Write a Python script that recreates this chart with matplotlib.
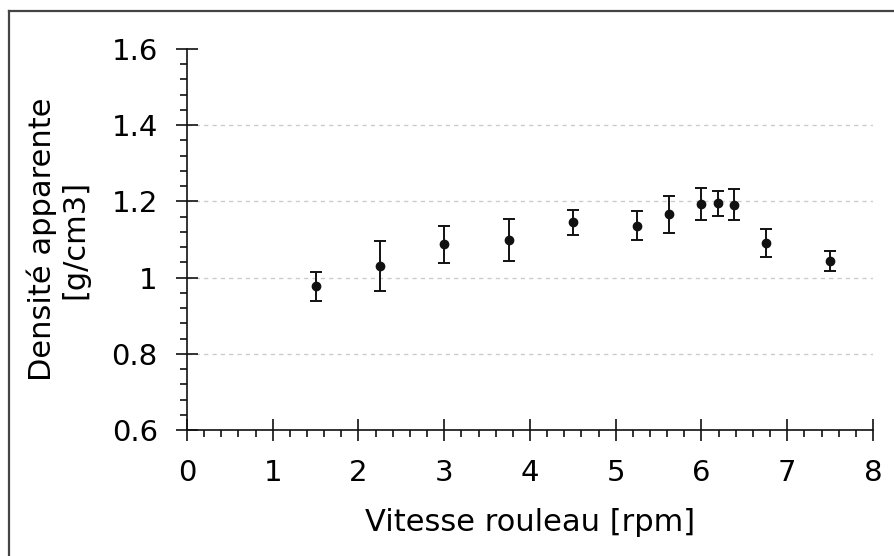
import numpy as np
import matplotlib.pyplot as plt
from matplotlib.lines import Line2D
from matplotlib.ticker import MultipleLocator, FuncFormatter

# roller speed vs bulk density, with error bars
vitesse = [1.5, 2.25, 3.0, 3.75, 4.5, 5.25, 5.625, 6.0, 6.1875, 6.375, 6.75, 7.5]
densite = [0.977, 1.031, 1.087, 1.099, 1.145, 1.136, 1.166, 1.193, 1.195, 1.191, 1.091, 1.044]
erreur = [0.039, 0.065, 0.048, 0.055, 0.032, 0.038, 0.048, 0.043, 0.033, 0.041, 0.037, 0.027]

plt.rcParams["font.family"] = ["DejaVu Sans"]

fig = plt.figure(figsize=(8.95, 5.56), dpi=100)
ax = fig.add_axes([187 / 895, 1 - 430 / 556, (873 - 187) / 895, (430 - 49) / 556])

ax.errorbar(
    vitesse, densite, yerr=erreur,
    fmt="o", color="#111111", ms=6, elinewidth=1.4,
    capsize=4.3, capthick=1.4, zorder=3,
)

ax.set_xlim(0, 8)
ax.set_ylim(0.6, 1.6)
ax.xaxis.set_major_locator(MultipleLocator(1))
ax.xaxis.set_minor_locator(MultipleLocator(0.2))
ax.set_yticks([0.6, 0.8, 1.0, 1.2, 1.4, 1.6])
ax.yaxis.set_minor_locator(MultipleLocator(0.04))
ax.yaxis.set_major_formatter(FuncFormatter(lambda v, p: "{:g}".format(round(v, 2))))

# dashed grid only between the limits
for yv in [0.8, 1.0, 1.2, 1.4]:
    ax.axhline(yv, color="#cccccc", lw=1.0, ls=(0, (3, 3)), zorder=1)

for side in ["top", "right"]:
    ax.spines[side].set_visible(False)
for side in ["left", "bottom"]:
    ax.spines[side].set_linewidth(1.2)
    ax.spines[side].set_color("#111111")

ax.tick_params(which="major", direction="inout", length=16, width=1.2,
               color="#111111", labelsize=21)
ax.tick_params(axis="x", which="major", pad=13)
ax.tick_params(axis="y", which="major", pad=13)
ax.tick_params(which="minor", direction="out", length=5, width=1.2, color="#111111")

ax.set_xlabel("Vitesse rouleau [rpm]", fontsize=22, labelpad=15)
ax.set_ylabel("Densité apparente\n[g/cm3]", fontsize=22, labelpad=16, linespacing=1.15)

# outer frame, top and left edges only
x0, y0 = 9 / 895, 1 - 11 / 556
fig.lines.append(Line2D([x0, 1.0], [y0, y0], transform=fig.transFigure,
                        color="#444444", lw=1.6))
fig.lines.append(Line2D([x0, x0], [0.0, y0], transform=fig.transFigure,
                        color="#444444", lw=1.6))

fig.savefig("out.png", dpi=100)
